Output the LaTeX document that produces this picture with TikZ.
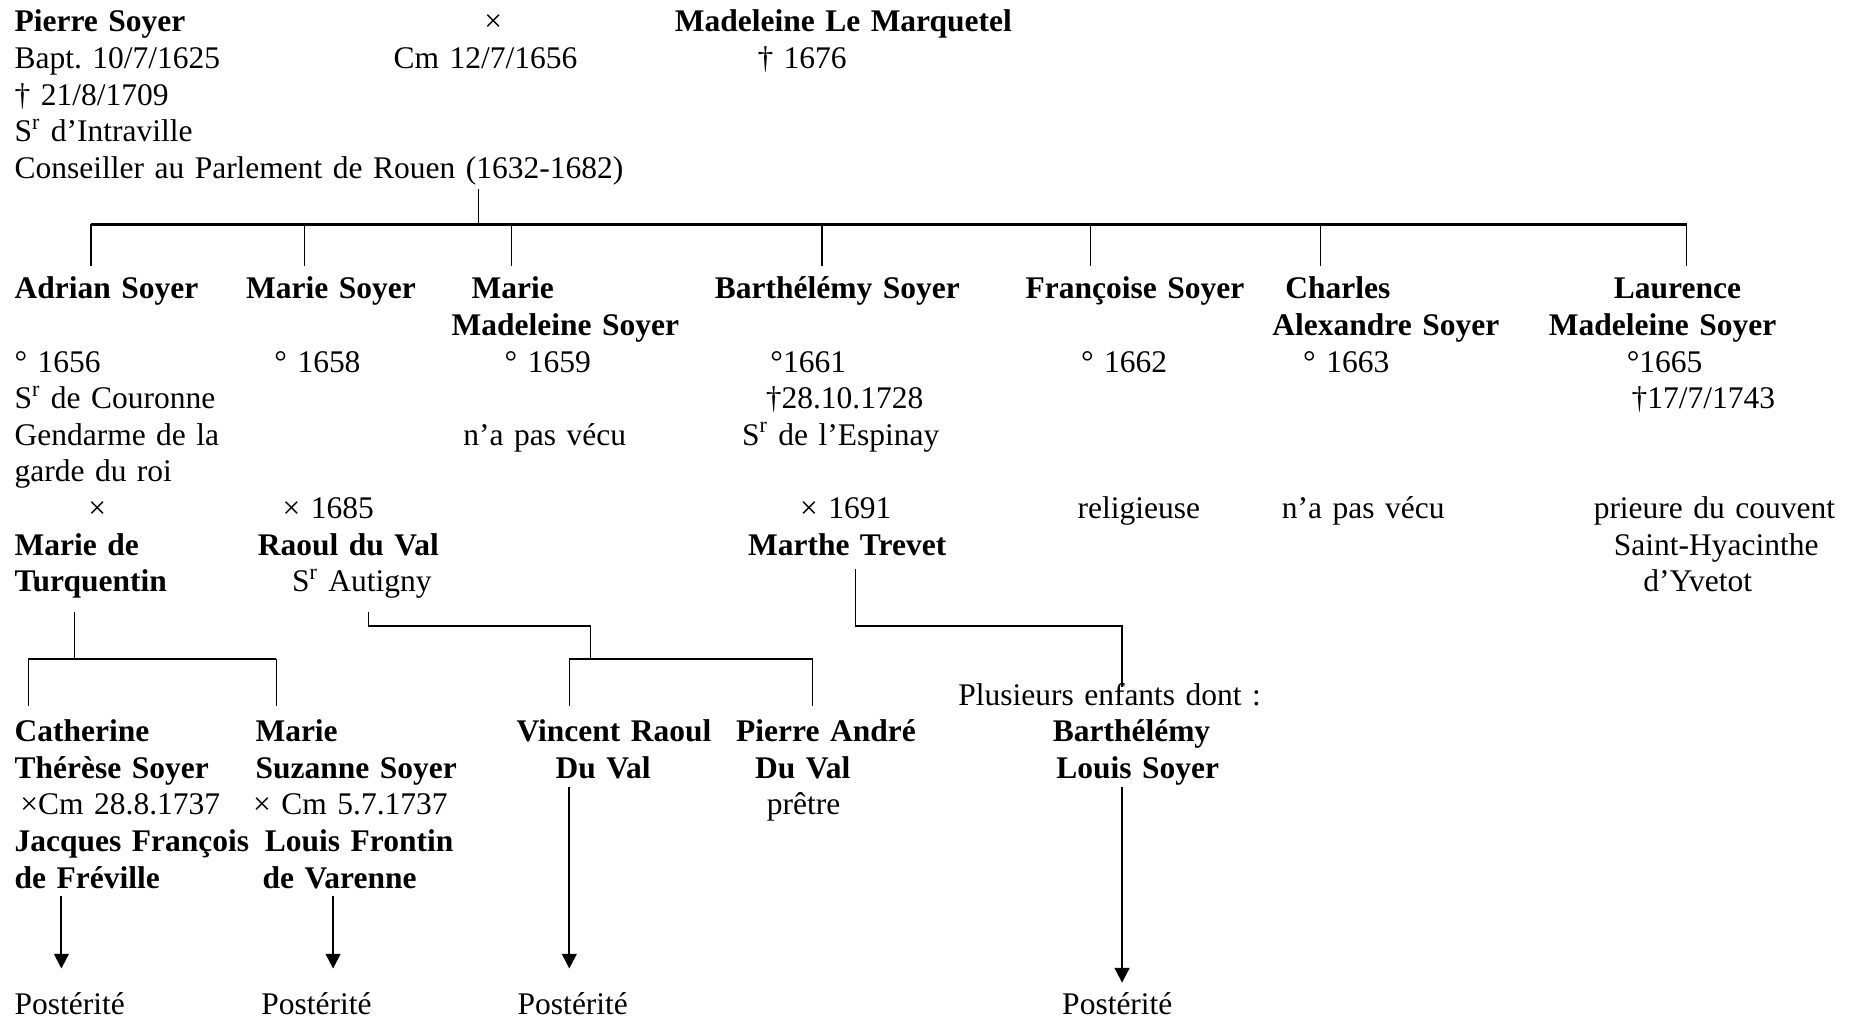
\documentclass[tikz,border=0pt]{standalone}
\usepackage{fontspec}
\setmainfont{Liberation Serif}
\usetikzlibrary{arrows.meta,positioning,calc}
\frenchspacing

\begin{document}
\begin{tikzpicture}[
  x=0.6pt, y=-0.6pt,
  person/.style={anchor=base west, inner sep=0pt, text width=12cm, align=left, font=\fontsize{16}{18.6}\selectfont},
  link/.style={line width=0.6pt},
  bar/.style={line width=1.2pt},
  desc/.style={-{Triangle[length=7.5pt,width=7.5pt]}, line width=1pt},
]
  \useasboundingbox (0,0) rectangle (1568,864);

  % Parents
  \node[person] (pierre) at (12,27) {\textbf{Pierre Soyer}\\ Bapt. 10/7/1625\\ † 21/8/1709\\ S\textsuperscript{r} d’Intraville\\ Conseiller au Parlement de Rouen (1632-1682)};
  \node[person] (mariage) at (333,27) {\hspace*{46pt}×\\ Cm 12/7/1656};
  \node[person] (madeleine) at (571,27) {\textbf{Madeleine Le Marquetel}\\ \hspace*{42pt}† 1676};

  % Children
  \node[person] (adrian) at (12,253) {\textbf{Adrian Soyer}\\ \mbox{}\\ ° 1656\\ S\textsuperscript{r} de Couronne\\ Gendarme de la\\ garde du roi\\ \hspace*{37.5pt}×\\ \textbf{Marie de}\\ \textbf{Turquentin}};
  \node[person] (marie) at (208,253) {\textbf{Marie Soyer}\\ \mbox{}\\ \hspace*{14.4pt}° 1658\\ \mbox{}\\ \mbox{}\\ \mbox{}\\ \hspace*{18.6pt}× 1685\\ \hspace*{6pt}\textbf{Raoul du Val}\\ \hspace*{23.4pt}S\textsuperscript{r} Autigny};
  \node[person] (mmadeleine) at (382,253) {\hspace*{10.2pt}\textbf{Marie}\\ \textbf{Madeleine Soyer}\\ \hspace*{27pt}° 1659\\ \mbox{}\\ \hspace*{6pt}n’a pas vécu};
  \node[person] (barthelemy) at (605,253) {\textbf{Barthélémy Soyer}\\ \mbox{}\\ \hspace*{28.2pt}°1661\\ \hspace*{25.8pt}†28.10.1728\\ \hspace*{13.8pt}S\textsuperscript{r} de l’Espinay\\ \mbox{}\\ \hspace*{43.2pt}× 1691\\ \hspace*{16.8pt}\textbf{Marthe Trevet}};
  \node[person] (francoise) at (868,253) {\textbf{Françoise Soyer}\\ \mbox{}\\ \hspace*{28.2pt}° 1662\\ \mbox{}\\ \mbox{}\\ \mbox{}\\ \hspace*{26.4pt}religieuse};
  \node[person] (charles) at (1077,253) {\hspace*{6.6pt}\textbf{Charles}\\ \textbf{Alexandre Soyer}\\ \hspace*{15.6pt}° 1663\\ \mbox{}\\ \mbox{}\\ \mbox{}\\ \hspace*{4.8pt}n’a pas vécu};
  \node[person] (laurence) at (1311,253) {\hspace*{33pt}\textbf{Laurence}\\ \textbf{Madeleine Soyer}\\ \hspace*{39.6pt}°1665\\ \hspace*{42pt}†17/7/1743\\ \mbox{}\\ \mbox{}\\ \hspace*{22.8pt}prieure du couvent\\ \hspace*{33pt}Saint-Hyacinthe\\ \hspace*{48pt}d’Yvetot};

  % Grandchildren
  \node[person] (catherine) at (12,628) {\textbf{Catherine}\\ \textbf{Thérèse Soyer}\\ \hspace*{3pt}×Cm 28.8.1737\\ \textbf{Jacques François}\\ \textbf{de Fréville}};
  \node[person] (msuzanne) at (214,628) {\hspace*{1.2pt}\textbf{Marie}\\ \hspace*{1.2pt}\textbf{Suzanne Soyer}\\ × Cm 5.7.1737\\ \hspace*{6pt}\textbf{Louis Frontin}\\ \hspace*{4.8pt}\textbf{de Varenne}};
  \node[person] (vincent) at (437,628) {\textbf{Vincent Raoul}\\ \hspace*{19.8pt}\textbf{Du Val}};
  \node[person] (pandre) at (623,628) {\textbf{Pierre André}\\ \hspace*{9.6pt}\textbf{Du Val}\\ \hspace*{15.6pt}prêtre};
  \node[person] (plusieurs) at (811,597) {Plusieurs enfants dont :\\ \hspace*{48pt}\textbf{Barthélémy}\\ \hspace*{49.8pt}\textbf{Louis Soyer}};

  % Posterity
  \node[person] (post1) at (12,859) {Postérité};
  \node[person] (post2) at (221,859) {Postérité};
  \node[person] (post3) at (438,859) {Postérité};
  \node[person] (post4) at (899,859) {Postérité};

  % Parents -> children
  \coordinate (couple) at (405,160);
  \coordinate (fratrie) at (405,190);
  \draw[link] (couple) -- (fratrie);
  \foreach \n/\x in {adrian/77, marie/258, mmadeleine/433, barthelemy/696, francoise/923, charles/1118, laurence/1428} {
    \coordinate (t\n) at (\x,225);
    \draw[link] (t\n |- fratrie) -- (t\n);
  }
  \draw[bar] (tadrian |- fratrie) -- (tlaurence |- fratrie);

  % Adrian x Marie de Turquentin
  \coordinate (adrianM) at (63,518);
  \coordinate (adrianJ) at (63,558);
  \coordinate (tcatherine) at (24,598);
  \coordinate (tmsuzanne) at (234,598);
  \draw[link] (adrianM) -- (adrianJ);
  \draw[bar] (tcatherine |- adrianJ) -- (tmsuzanne |- adrianJ);
  \draw[link] (tcatherine |- adrianJ) -- (tcatherine);
  \draw[link] (tmsuzanne |- adrianJ) -- (tmsuzanne);

  % Marie x Raoul du Val
  \coordinate (raoulM) at (312,518);
  \coordinate (raoulK) at (500,530);
  \coordinate (raoulJ) at (500,558);
  \coordinate (tvincent) at (482,598);
  \coordinate (tpandre) at (688,598);
  \draw[link] (raoulM) |- (raoulK) -- (raoulJ);
  \draw[bar] (tvincent |- raoulJ) -- (tpandre |- raoulJ);
  \draw[link] (tvincent |- raoulJ) -- (tvincent);
  \draw[link] (tpandre |- raoulJ) -- (tpandre);

  % Barthelemy x Marthe Trevet
  \coordinate (bartheM) at (724,482);
  \coordinate (bartheK) at (950,530);
  \coordinate (tplusieurs) at (950,582);
  \draw[link] (bartheM) |- (bartheK) -- (tplusieurs);

  % Descent arrows
  \coordinate (f1) at (52,759);
  \coordinate (f2) at (282,759);
  \coordinate (f3) at (482,666);
  \coordinate (f4) at (950,666);
  \draw[desc] (f1) -- (52,820);
  \draw[desc] (f2) -- (282,820);
  \draw[desc] (f3) -- (482,820);
  \draw[desc] (f4) -- (950,832);
\end{tikzpicture}
\end{document}
